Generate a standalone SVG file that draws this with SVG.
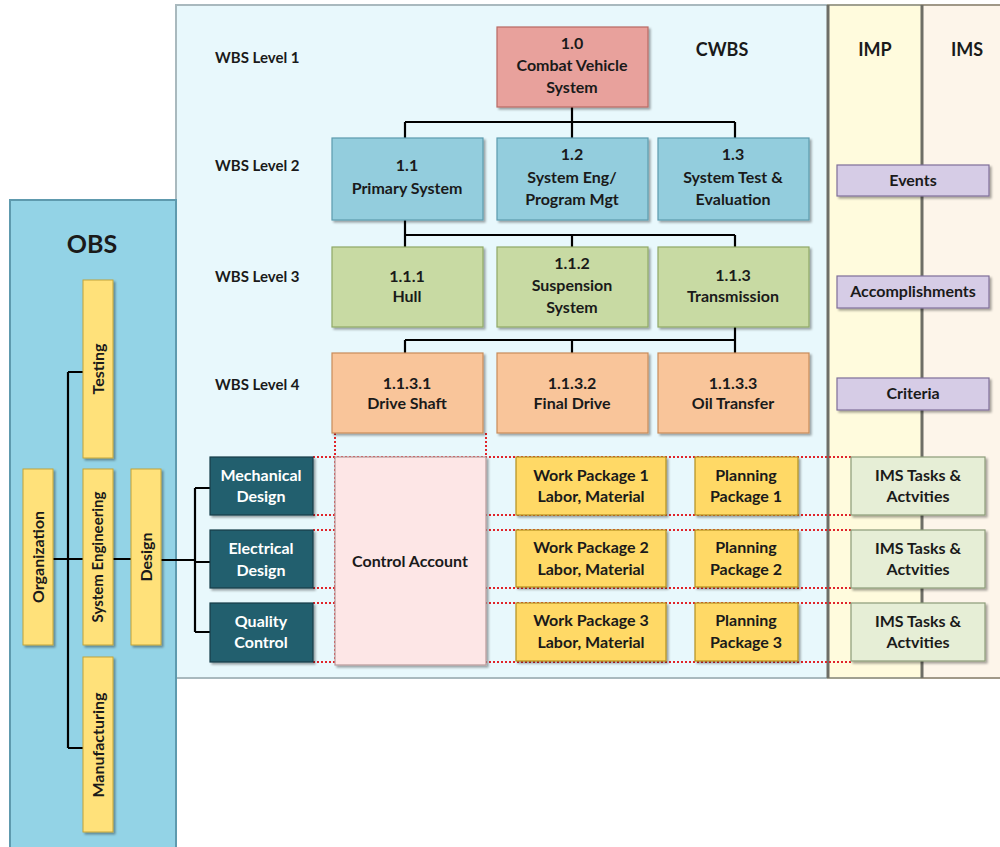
<svg xmlns="http://www.w3.org/2000/svg" width="1000" height="847" viewBox="0 0 1000 847">
<defs>
<filter id="sh" x="-10%" y="-10%" width="130%" height="130%">
<feDropShadow dx="2" dy="2" stdDeviation="1.2" flood-color="#000" flood-opacity="0.35"/>
</filter>
<style>
text{font-family:Lato,"Liberation Sans",sans-serif;font-weight:bold;fill:#1a1a1a;text-anchor:middle}
.lbl{font-size:15px;text-anchor:start}
.t{font-size:16px}
.w{fill:#ffffff;font-size:16px}
.hd{font-size:18px}
.box{filter:url(#sh);stroke-width:1.2}
.pink{fill:#E8A19C;stroke:#B86A64}
.blue{fill:#93CDDD;stroke:#5C9BAE}
.green{fill:#C8DAA3;stroke:#8FA866}
.orange{fill:#F9C59A;stroke:#C88C5A}
.purple{fill:#D6CCE6;stroke:#7F6F99}
.teal{fill:#245E6E;stroke:#163E49}
.ca{fill:#FDE6E6;stroke:#B89A9A}
.gold{fill:#FFD966;stroke:#B38F1E}
.lg{fill:#E6EED6;stroke:#8C9C78}
.ybar{fill:#FFE17A;stroke:#C2A43A;filter:url(#sh)}
.con{stroke:#000;stroke-width:2.2;fill:none}
.dot{stroke:#E0242A;stroke-width:2;stroke-dasharray:2 2;fill:none}
</style>
</defs>
<rect width="1000" height="847" fill="#ffffff"/>
<g id="panels">
<rect x="176" y="5" width="652" height="673" fill="#E8F8FC" stroke="#A9B9BE" stroke-width="2"/>
<rect x="828" y="5" width="94" height="673" fill="#FFFBDD" stroke="#A0A090" stroke-width="2"/>
<rect x="922" y="5" width="80" height="673" fill="#FDF5EA" stroke="#A09888" stroke-width="2"/>
<path d="M828 5V678M922 5V678" stroke="#6E6E66" stroke-width="3"/>
<rect x="10" y="200" width="166" height="660" fill="#93D3E6" stroke="#5E9AAE" stroke-width="2"/>
<text x="92" y="253" style="font-size:25px">OBS</text>
<text x="722" y="56" class="hd">CWBS</text>
<text x="875" y="56" class="hd">IMP</text>
<text x="967" y="56" class="hd">IMS</text>
<text x="215" y="63" class="lbl">WBS Level 1</text>
<text x="215" y="171" class="lbl">WBS Level 2</text>
<text x="215" y="282" class="lbl">WBS Level 3</text>
<text x="215" y="390" class="lbl">WBS Level 4</text>
</g>
<g id="connectors">
<path class="con" d="M572 107V122M405 122H735M405 122V138M572 122V138M735 122V138"/>
<path class="con" d="M405 220V235M405 235H735M405 235V247M572 235V247M735 235V247"/>
<path class="con" d="M735 327V340M405 340H735M405 340V353M572 340V353M735 340V353"/>
<path class="con" d="M68 372V748M68 372H83M68 748H83M53 559H83M113 559H131M161 560H195M195 488V632M195 488H210M195 562H210M195 632H210"/>
<path class="dot" d="M335 433V457M486 433V457"/>
<path class="dot" d="M313 457H851M313 515H851M313 530H851M313 588H851M313 603H851M313 662H851M335 457V662"/>
</g>
<g id="n10"><rect class="box pink" x="497" y="27" width="151" height="80"/><text class="t" x="572" y="49">1.0</text><text class="t" x="572" y="71">Combat Vehicle</text><text class="t" x="572" y="93">System</text></g>
<g id="n11"><rect class="box blue" x="332" y="138" width="151" height="82"/><text class="t" x="407" y="171">1.1</text><text class="t" x="407" y="194">Primary System</text></g>
<g id="n12"><rect class="box blue" x="497" y="138" width="151" height="82"/><text class="t" x="572" y="160">1.2</text><text class="t" x="572" y="183">System Eng/</text><text class="t" x="572" y="205">Program Mgt</text></g>
<g id="n13"><rect class="box blue" x="658" y="138" width="151" height="82"/><text class="t" x="733" y="160">1.3</text><text class="t" x="733" y="183">System Test &amp;</text><text class="t" x="733" y="205">Evaluation</text></g>
<g id="n111"><rect class="box green" x="332" y="247" width="151" height="80"/><text class="t" x="407" y="282">1.1.1</text><text class="t" x="407" y="302">Hull</text></g>
<g id="n112"><rect class="box green" x="497" y="247" width="151" height="80"/><text class="t" x="572" y="269">1.1.2</text><text class="t" x="572" y="291">Suspension</text><text class="t" x="572" y="313">System</text></g>
<g id="n113"><rect class="box green" x="658" y="247" width="151" height="80"/><text class="t" x="733" y="281">1.1.3</text><text class="t" x="733" y="302">Transmission</text></g>
<g id="n1131"><rect class="box orange" x="332" y="353" width="151" height="80"/><text class="t" x="407" y="389">1.1.3.1</text><text class="t" x="407" y="409">Drive Shaft</text></g>
<g id="n1132"><rect class="box orange" x="497" y="353" width="151" height="80"/><text class="t" x="572" y="389">1.1.3.2</text><text class="t" x="572" y="409">Final Drive</text></g>
<g id="n1133"><rect class="box orange" x="658" y="353" width="151" height="80"/><text class="t" x="733" y="389">1.1.3.3</text><text class="t" x="733" y="409">Oil Transfer</text></g>
<g id="events"><rect class="box purple" x="837" y="165" width="152" height="31"/><text class="t" x="913" y="186">Events</text></g>
<g id="accomplishments"><rect class="box purple" x="837" y="276" width="152" height="32"/><text class="t" x="913" y="297">Accomplishments</text></g>
<g id="criteria"><rect class="box purple" x="837" y="378" width="152" height="32"/><text class="t" x="913" y="399">Criteria</text></g>
<g id="mech"><rect class="box teal" x="210" y="457" width="103" height="58"/><text class="w" x="261" y="481">Mechanical</text><text class="w" x="261" y="502">Design</text></g>
<g id="elec"><rect class="box teal" x="210" y="530" width="103" height="58"/><text class="w" x="261" y="554">Electrical</text><text class="w" x="261" y="576">Design</text></g>
<g id="qc"><rect class="box teal" x="210" y="603" width="103" height="59"/><text class="w" x="261" y="627">Quality</text><text class="w" x="261" y="648">Control</text></g>
<g id="ca"><rect class="box ca" x="335" y="457" width="151" height="208"/><text class="t" x="410" y="567">Control Account</text></g>
<g id="wp1"><rect class="box gold" x="516" y="457" width="150" height="58"/><text class="t" x="591" y="481">Work Package 1</text><text class="t" x="591" y="502">Labor, Material</text></g>
<g id="wp2"><rect class="box gold" x="516" y="530" width="150" height="57"/><text class="t" x="591" y="553">Work Package 2</text><text class="t" x="591" y="575">Labor, Material</text></g>
<g id="wp3"><rect class="box gold" x="516" y="603" width="150" height="58"/><text class="t" x="591" y="626">Work Package 3</text><text class="t" x="591" y="648">Labor, Material</text></g>
<g id="pp1"><rect class="box gold" x="695" y="457" width="103" height="58"/><text class="t" x="746" y="481">Planning</text><text class="t" x="746" y="502">Package 1</text></g>
<g id="pp2"><rect class="box gold" x="695" y="530" width="103" height="57"/><text class="t" x="746" y="553">Planning</text><text class="t" x="746" y="575">Package 2</text></g>
<g id="pp3"><rect class="box gold" x="695" y="603" width="103" height="58"/><text class="t" x="746" y="626">Planning</text><text class="t" x="746" y="648">Package 3</text></g>
<g id="ims1"><rect class="box lg" x="851" y="457" width="134" height="58"/><text class="t" x="918" y="481">IMS Tasks &amp;</text><text class="t" x="918" y="502">Actvities</text></g>
<g id="ims2"><rect class="box lg" x="851" y="530" width="134" height="58"/><text class="t" x="918" y="554">IMS Tasks &amp;</text><text class="t" x="918" y="575">Actvities</text></g>
<g id="ims3"><rect class="box lg" x="851" y="603" width="134" height="58"/><text class="t" x="918" y="627">IMS Tasks &amp;</text><text class="t" x="918" y="648">Actvities</text></g>
<g id="testing"><rect class="ybar" x="83" y="280" width="30" height="178"/><text class="t" transform="translate(104 369) rotate(-90)">Testing</text></g>
<g id="organization"><rect class="ybar" x="23" y="469" width="30" height="176"/><text class="t" transform="translate(44 557) rotate(-90)">Organization</text></g>
<g id="syseng"><rect class="ybar" x="83" y="469" width="30" height="176"/><text class="t" style="font-size:15px" transform="translate(103 557) rotate(-90)">System Engineering</text></g>
<g id="design"><rect class="ybar" x="131" y="469" width="30" height="176"/><text class="t" transform="translate(152 557) rotate(-90)">Design</text></g>
<g id="manufacturing"><rect class="ybar" x="83" y="657" width="30" height="175"/><text class="t" transform="translate(104 745) rotate(-90)">Manufacturing</text></g>
</svg>
